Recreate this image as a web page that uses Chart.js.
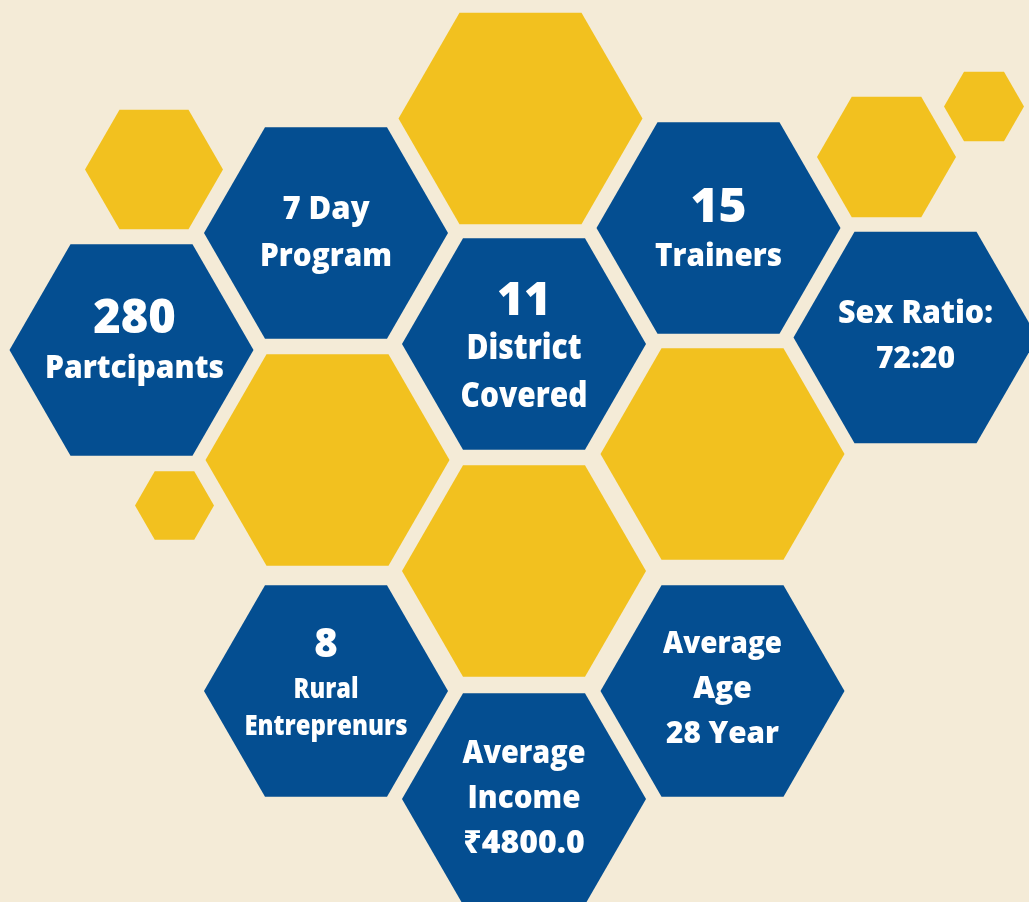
<!DOCTYPE html>
<html>
<head>
<meta charset="utf-8">
<script src="https://cdn.jsdelivr.net/npm/chart.js@4.4.1/dist/chart.umd.min.js"></script>
<style>
  html, body { margin: 0; padding: 0; background: #f4ebd7; }
  #wrap { width: 1029px; height: 902px; position: relative; }
</style>
</head>
<body>
<div id="wrap"><canvas id="hexChart"></canvas></div>
<script>
// blue stat cells: centre x, centre y, size (centre to corner)
const blueX = [131.5, 326, 524, 718.5, 915.5, 326, 524, 722.5];
const blueY = [350, 233, 344, 228, 337.5, 691, 799, 691];
const blueSize = [122, 122, 122, 122, 122, 122, 122, 122];
const blueLabels = [
    ['280', 'Partcipants'],
    ['7 Day', 'Program'],
    ['11', 'District', 'Covered'],
    ['15', 'Trainers'],
    ['Sex Ratio:', '72:20'],
    ['8', 'Rural', 'Entreprenurs'],
    ['Average', 'Income', '₹4800.0'],
    ['Average', 'Age', '28 Year']
];

// yellow filler cells
const yellowX = [154, 520.5, 886.5, 984, 327.5, 722.5, 174.5, 524];
const yellowY = [169.5, 118.5, 157, 106.5, 460, 454, 505.5, 571];
const yellowSize = [69, 122, 69.5, 40, 122, 122, 39.5, 122];

// font size, baseline offset from cell centre, max width (0 = free), per line
const labelStyle = [
    [[47, -17, 0], [31, 28, 179]],
    [[31, -14, 0], [31, 33, 132]],
    [[46, -29, 0], [35, 15, 115], [35, 63, 127]],
    [[48, -6, 0], [32, 38, 127]],
    [[31, -14.5, 155], [30, 30.5, 0]],
    [[40, -34, 0], [28, 7, 65], [29, 44, 163]],
    [[32, -36, 123], [32, 9, 113], [32, 54, 0]],
    [[30, -38, 119], [30, 7, 0], [30, 52, 113]]
];
const labelShift = [3, 0, 0, 0, 0, 0, 0, 0];

const BLUE = '#044e91';
const YELLOW = '#f2c11f';
const FONT = '"Open Sans", "Noto Sans", "DejaVu Sans", sans-serif';

const toPoints = (xs, ys, sizes) => xs.map((x, i) => ({ x: x, y: ys[i], size: sizes[i] }));

const hexPlugin = {
    id: 'hexCells',
    afterDatasetsDraw(chart) {
        const ctx = chart.ctx;
        const xScale = chart.scales.x;

        chart.data.datasets.forEach((ds, di) => {
            const meta = chart.getDatasetMeta(di);
            meta.data.forEach((pt, i) => {
                const d = ds.data[i];
                const r = xScale.getPixelForValue(d.x + d.size) - xScale.getPixelForValue(d.x);
                ctx.save();
                ctx.beginPath();
                for (let k = 0; k < 6; k++) {
                    const a = Math.PI / 3 * k;
                    const px = pt.x + r * Math.cos(a);
                    const py = pt.y + r * Math.sin(a);
                    if (k === 0) ctx.moveTo(px, py); else ctx.lineTo(px, py);
                }
                ctx.closePath();
                ctx.fillStyle = ds.hexColor;
                ctx.fill();

                // text for the stat cells
                if (ds.cellLabels) {
                    ctx.fillStyle = '#ffffff';
                    ctx.textAlign = 'center';
                    ctx.textBaseline = 'alphabetic';
                    const tx = pt.x + labelShift[i];
                    ds.cellLabels[i].forEach((line, li) => {
                        const [size, dy, maxW] = labelStyle[i][li];
                        ctx.font = `800 ${size}px ${FONT}`;
                        if (maxW) ctx.fillText(line, tx, pt.y + dy, maxW);
                        else ctx.fillText(line, tx, pt.y + dy);
                    });
                }
                ctx.restore();
            });
        });
    }
};

function buildChart() {
    const ctx = document.getElementById('hexChart').getContext('2d');
    new Chart(ctx, {
        type: 'scatter',
        data: {
            datasets: [
                {
                    label: 'Filler',
                    data: toPoints(yellowX, yellowY, yellowSize),
                    hexColor: YELLOW,
                    pointRadius: 0,
                    pointHoverRadius: 0,
                    clip: false
                },
                {
                    label: 'Stats',
                    data: toPoints(blueX, blueY, blueSize),
                    hexColor: BLUE,
                    cellLabels: blueLabels,
                    pointRadius: 0,
                    pointHoverRadius: 0,
                    clip: false
                }
            ]
        },
        options: {
            responsive: true,
            maintainAspectRatio: false,
            animation: false,
            layout: { padding: 0 },
            events: [],
            plugins: {
                legend: { display: false },
                tooltip: { enabled: false }
            },
            scales: {
                x: { type: 'linear', min: 0, max: 1029, display: false },
                y: { type: 'linear', min: 0, max: 902, reverse: true, display: false }
            }
        },
        plugins: [hexPlugin]
    });
}

if (document.fonts && document.fonts.load) {
    Promise.all([
        document.fonts.load('800 30px "Open Sans"'),
        document.fonts.load('700 30px "Noto Sans"')
    ]).then(buildChart, buildChart);
} else {
    buildChart();
}
</script>
</body>
</html>
